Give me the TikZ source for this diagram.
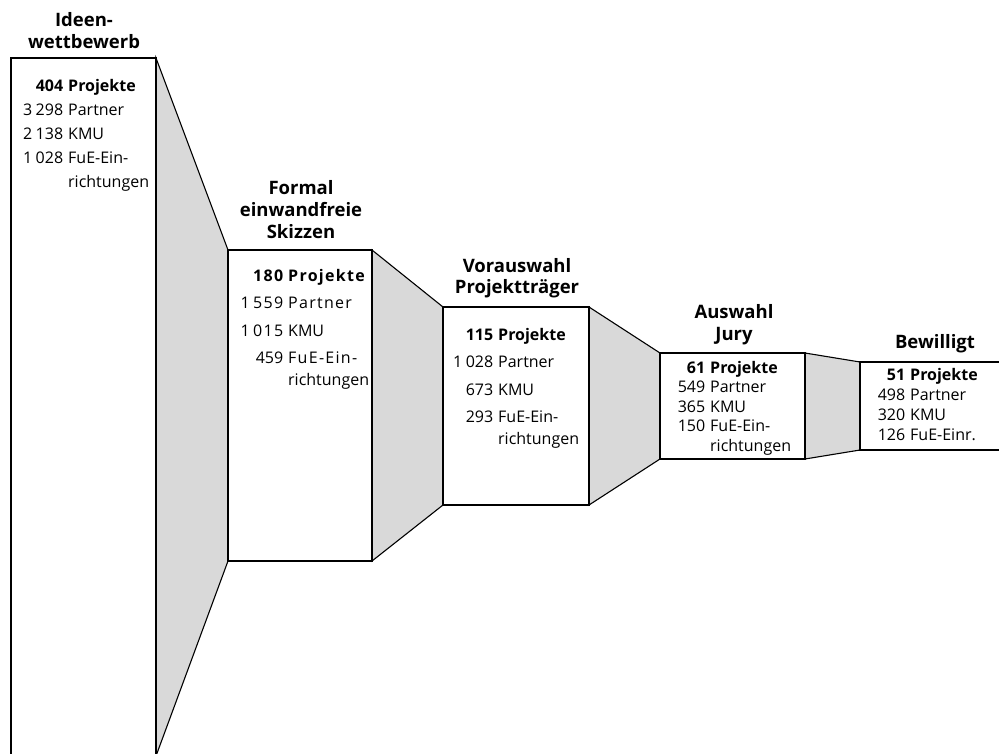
\documentclass[tikz,border=0pt]{standalone}
\usepackage{fontspec}
\setmainfont{Open Sans}
\newfontfamily\spacedfont[LetterSpace=8]{Open Sans}
\definecolor{funnelgray}{RGB}{217,217,217}
\newcommand{\nrow}[2]{\makebox[44pt][r]{#1}\hspace{5pt}#2}
\newcommand{\controw}[1]{\hspace{49pt}#1}
\newcommand{\ttlfont}{\fontsize{18.5}{22}\selectfont\bfseries}
\newcommand{\ts}{\hspace{3.5pt}}
\begin{document}
\begin{tikzpicture}[x=1pt,y=-1pt,
  box/.style={draw, fill=white, line width=1.1pt, anchor=north west, inner sep=0pt, outer sep=0pt},
  trap/.style={fill=funnelgray, draw, line width=1.1pt, line join=miter},
  ttl/.style={anchor=base, inner sep=0pt},
  cnt/.style={anchor=base west, inner sep=0pt}]
\useasboundingbox (0,0) rectangle (999,753);

% boxes
\path (11,58) node[box, minimum width=145pt, minimum height=698pt] (b1) {};
\path (228,250) node[box, minimum width=144pt, minimum height=311pt] (b2) {};
\path (443,307) node[box, minimum width=146pt, minimum height=198pt] (b3) {};
\path (660,353) node[box, minimum width=145pt, minimum height=106pt] (b4) {};
\path (860,362) node[box, minimum width=145pt, minimum height=88pt] (b5) {};

% connecting trapezoids
\filldraw[trap] (b1.north east) -- (b2.north west) -- (b2.south west) -- (b1.south east) -- cycle;
\filldraw[trap] (b2.north east) -- (b3.north west) -- (b3.south west) -- (b2.south east) -- cycle;
\filldraw[trap] (b3.north east) -- (b4.north west) -- (b4.south west) -- (b3.south east) -- cycle;
\filldraw[trap] (b4.north east) -- (b5.north west) -- (b5.south west) -- (b4.south east) -- cycle;

% redraw boxes on top
\draw[line width=1.1pt, fill=white] (b1.north west) rectangle (b1.south east);
\draw[line width=1.1pt, fill=white] (b2.north west) rectangle (b2.south east);
\draw[line width=1.1pt, fill=white] (b3.north west) rectangle (b3.south east);
\draw[line width=1.1pt, fill=white] (b4.north west) rectangle (b4.south east);
\draw[line width=1.1pt, fill=white] (b5.north west) rectangle (b5.south east);

% titles
\node[ttl] (t1) at (84,48) {\ttlfont\begin{tabular}[b]{@{}c@{}}Ideen-\\wettbewerb\end{tabular}};
\node[ttl] (t2) at (301,238) {\ttlfont\begin{tabular}[b]{@{}c@{}}Formal\\einwandfreie\\Skizzen\end{tabular}};
\node[ttl] (t3) at (517,293) {\fontsize{18.5}{21}\selectfont\bfseries\begin{tabular}[b]{@{}c@{}}Vorauswahl\\Projektträger\end{tabular}};
\node[ttl] (t4) at (734,340) {\ttlfont\begin{tabular}[b]{@{}c@{}}Auswahl\\Jury\end{tabular}};
\node[ttl] (t5) at (935,348) {\ttlfont\begin{tabular}[b]{@{}c@{}}Bewilligt\end{tabular}};

% contents
\node[cnt] (c1) at (19,91) {\fontsize{16}{24}\selectfont\begin{tabular}[t]{@{}l@{}}
\nrow{\bfseries 404}{\bfseries Projekte}\\
\nrow{3\ts 298}{Partner}\\
\nrow{2\ts 138}{KMU}\\
\nrow{1\ts 028}{FuE-Ein-}\\
\controw{richtungen}
\end{tabular}};

\node[cnt] (c2) at (239,281) {\fontsize{16}{27.5}\selectfont\begin{tabular}[t]{@{}l@{}}
\nrow{\bfseries\spacedfont 180}{\bfseries\spacedfont Projekte}\\
\nrow{\spacedfont 1\ts 559}{\spacedfont Partner}\\
\nrow{\spacedfont 1\ts 015}{KMU}\\
\nrow{459}{\spacedfont FuE-Ein-}\\[-6pt]
\controw{richtungen}
\end{tabular}};

\node[cnt] (c3) at (449,340) {\fontsize{16}{27.5}\selectfont\begin{tabular}[t]{@{}l@{}}
\nrow{\bfseries 115}{\bfseries Projekte}\\
\nrow{1\ts 028}{Partner}\\
\nrow{673}{KMU}\\
\nrow{293}{FuE-Ein-}\\[-5.5pt]
\controw{richtungen}
\end{tabular}};

\node[cnt] (c4) at (661,373) {\fontsize{16}{19.5}\selectfont\begin{tabular}[t]{@{}l@{}}
\nrow{\bfseries 61}{\bfseries Projekte}\\
\nrow{549}{Partner}\\
\nrow{365}{KMU}\\
\nrow{150}{FuE-Ein-}\\
\controw{richtungen}
\end{tabular}};

\node[cnt] (c5) at (861,380) {\fontsize{16}{20}\selectfont\begin{tabular}[t]{@{}l@{}}
\nrow{\bfseries 51}{\bfseries Projekte}\\
\nrow{498}{Partner}\\
\nrow{320}{KMU}\\
\nrow{126}{FuE-Einr.}
\end{tabular}};
\end{tikzpicture}
\end{document}
